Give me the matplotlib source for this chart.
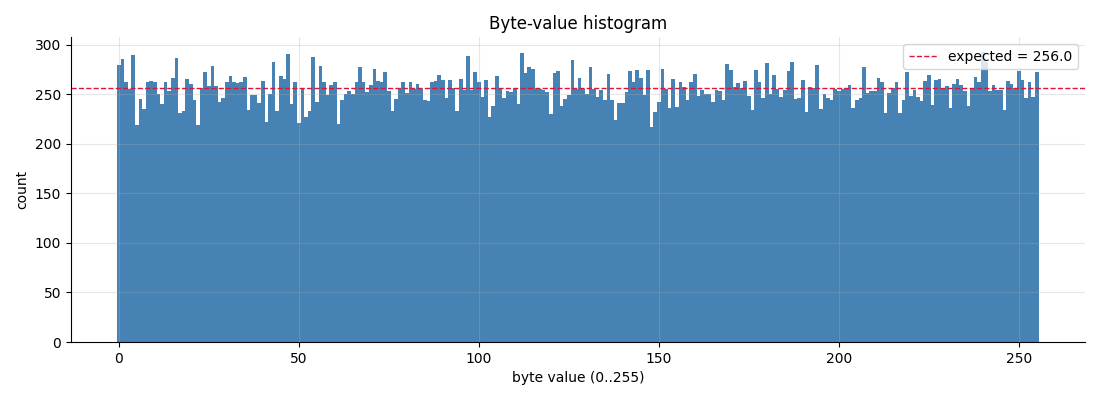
import numpy as np
import matplotlib
matplotlib.use("Agg")
import matplotlib.pyplot as plt

byte_values = np.arange(256)
counts = [
    279, 285, 262, 255, 289, 219, 245, 235, 262, 263, 262, 250, 240, 262, 253, 266,
    286, 231, 233, 265, 260, 244, 219, 256, 272, 258, 278, 258, 242, 246, 262, 268,
    262, 261, 262, 267, 234, 249, 249, 241, 263, 222, 250, 282, 233, 268, 265, 290,
    240, 262, 221, 256, 227, 233, 287, 242, 278, 262, 249, 259, 262, 220, 244, 250,
    253, 250, 262, 277, 262, 252, 259, 275, 263, 262, 272, 253, 233, 245, 256, 262,
    251, 262, 255, 260, 255, 244, 243, 262, 263, 269, 264, 246, 264, 256, 233, 265,
    254, 288, 254, 272, 262, 247, 264, 227, 238, 268, 256, 246, 253, 252, 255, 240,
    292, 271, 277, 275, 255, 255, 254, 252, 230, 271, 273, 238, 245, 249, 284, 255,
    266, 255, 250, 277, 255, 247, 254, 244, 270, 244, 224, 241, 241, 252, 273, 262,
    274, 266, 249, 274, 217, 232, 242, 275, 255, 236, 265, 237, 262, 257, 244, 262,
    270, 248, 254, 250, 250, 242, 254, 253, 244, 280, 274, 257, 261, 256, 263, 248,
    234, 274, 262, 246, 281, 250, 269, 255, 247, 254, 273, 282, 245, 246, 264, 232,
    257, 256, 279, 235, 250, 246, 244, 255, 253, 255, 256, 259, 236, 244, 246, 277,
    251, 253, 253, 266, 262, 231, 251, 256, 262, 231, 244, 272, 248, 254, 247, 243,
    263, 269, 239, 264, 265, 255, 258, 236, 260, 265, 259, 253, 238, 255, 267, 262,
    293, 282, 253, 259, 254, 254, 234, 263, 260, 256, 273, 264, 246, 262, 247, 272,
]
total_bytes = 65536
expected = total_bytes / 256

fig = plt.figure(figsize=(11, 4), dpi=100)
ax = fig.add_subplot(111)
fig.subplots_adjust(left=0.0645, right=0.986, top=0.9075, bottom=0.145)

ax.bar(byte_values, counts, width=1.0, color="steelblue", linewidth=0)
ax.axhline(expected, color="crimson", linestyle="--", linewidth=1,
           label=f"expected = {expected:.1f}")
ax.grid(True, alpha=0.3)
ax.spines["top"].set_visible(False)
ax.spines["right"].set_visible(False)
ax.set_title("Byte-value histogram")
ax.set_xlabel("byte value (0..255)")
ax.set_ylabel("count")
ax.legend(loc="upper right")

fig.savefig("out.png", dpi=100)
